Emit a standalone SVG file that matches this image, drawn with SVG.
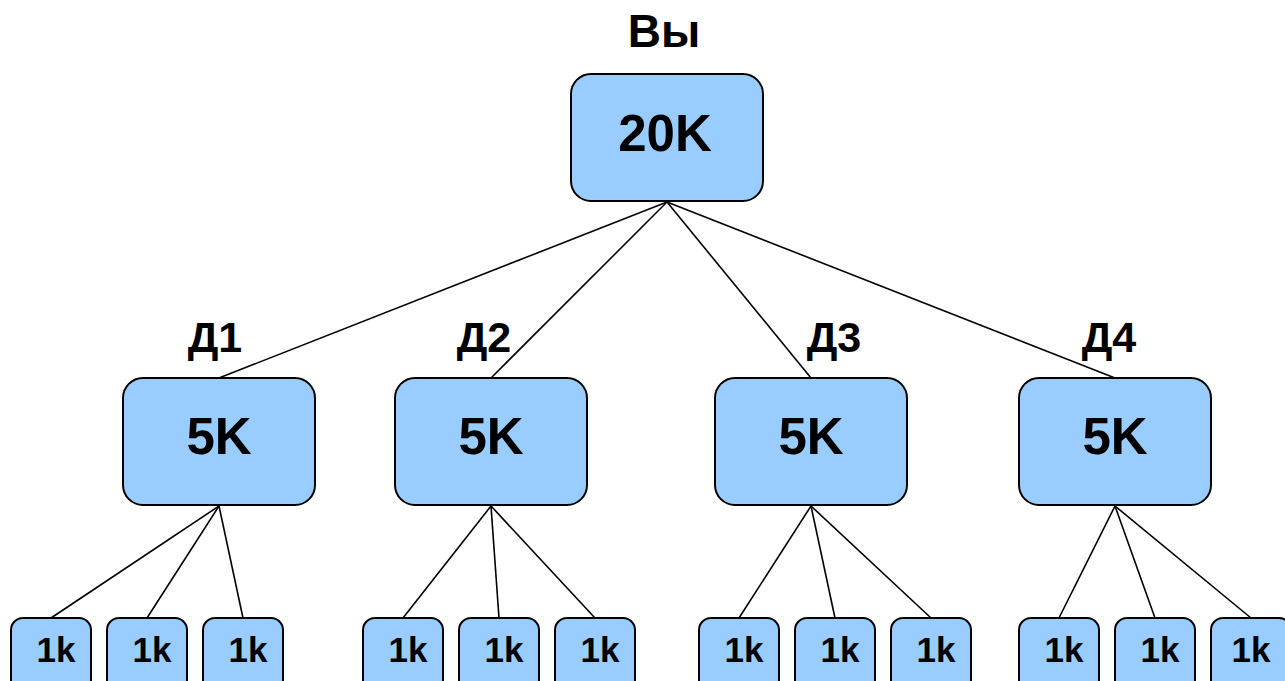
<svg xmlns="http://www.w3.org/2000/svg" width="1285" height="681" viewBox="0 0 1285 681">
<style>
.box{fill:#99ccff;stroke:#000;stroke-width:2}
.ln{stroke:#000;stroke-width:1.6;fill:none}
text{font-family:"Liberation Sans",Arial,sans-serif;font-weight:bold;fill:#000;text-anchor:middle}
.big{font-size:51px}
.top{font-size:46px}
.lbl{font-size:43px}
.sm{font-size:35px}
</style>
<rect width="1285" height="681" fill="#fff"/>
<g id="connectors">
<line class="ln" x1="667" y1="202" x2="219" y2="378"/>
<line class="ln" x1="667" y1="202" x2="491" y2="378"/>
<line class="ln" x1="667" y1="202" x2="811" y2="378"/>
<line class="ln" x1="667" y1="202" x2="1115" y2="378"/>
<line class="ln" x1="219" y1="506" x2="51" y2="618"/>
<line class="ln" x1="219" y1="506" x2="147" y2="618"/>
<line class="ln" x1="219" y1="506" x2="243" y2="618"/>
<line class="ln" x1="491" y1="506" x2="403" y2="618"/>
<line class="ln" x1="491" y1="506" x2="499" y2="618"/>
<line class="ln" x1="491" y1="506" x2="595" y2="618"/>
<line class="ln" x1="811" y1="506" x2="739" y2="618"/>
<line class="ln" x1="811" y1="506" x2="835" y2="618"/>
<line class="ln" x1="811" y1="506" x2="931" y2="618"/>
<line class="ln" x1="1115" y1="506" x2="1059" y2="618"/>
<line class="ln" x1="1115" y1="506" x2="1155" y2="618"/>
<line class="ln" x1="1115" y1="506" x2="1251" y2="618"/>
</g>
<g id="root">
<text class="top" x="664" y="47">Вы</text>
<rect class="box" x="571" y="74" width="192" height="127" rx="20"/>
<text class="big" x="665" y="151">20K</text>
</g>
<g id="d1">
<text class="lbl" x="215" y="352">Д1</text>
<rect class="box" x="123" y="378" width="192" height="127" rx="20"/>
<text class="big" x="219" y="454">5K</text>
</g>
<g id="d2">
<text class="lbl" x="484" y="352">Д2</text>
<rect class="box" x="395" y="378" width="192" height="127" rx="20"/>
<text class="big" x="491" y="454">5K</text>
</g>
<g id="d3">
<text class="lbl" x="834" y="352">Д3</text>
<rect class="box" x="715" y="378" width="192" height="127" rx="20"/>
<text class="big" x="811" y="454">5K</text>
</g>
<g id="d4">
<text class="lbl" x="1109" y="352">Д4</text>
<rect class="box" x="1019" y="378" width="192" height="127" rx="20"/>
<text class="big" x="1115" y="454">5K</text>
</g>
<g id="leaf1"><rect class="box" x="11" y="618" width="80" height="80" rx="12"/><text class="sm" x="56" y="662">1k</text></g>
<g id="leaf2"><rect class="box" x="107" y="618" width="80" height="80" rx="12"/><text class="sm" x="152" y="662">1k</text></g>
<g id="leaf3"><rect class="box" x="203" y="618" width="80" height="80" rx="12"/><text class="sm" x="248" y="662">1k</text></g>
<g id="leaf4"><rect class="box" x="363" y="618" width="80" height="80" rx="12"/><text class="sm" x="408" y="662">1k</text></g>
<g id="leaf5"><rect class="box" x="459" y="618" width="80" height="80" rx="12"/><text class="sm" x="504" y="662">1k</text></g>
<g id="leaf6"><rect class="box" x="555" y="618" width="80" height="80" rx="12"/><text class="sm" x="600" y="662">1k</text></g>
<g id="leaf7"><rect class="box" x="699" y="618" width="80" height="80" rx="12"/><text class="sm" x="744" y="662">1k</text></g>
<g id="leaf8"><rect class="box" x="795" y="618" width="80" height="80" rx="12"/><text class="sm" x="840" y="662">1k</text></g>
<g id="leaf9"><rect class="box" x="891" y="618" width="80" height="80" rx="12"/><text class="sm" x="936" y="662">1k</text></g>
<g id="leaf10"><rect class="box" x="1019" y="618" width="80" height="80" rx="12"/><text class="sm" x="1064" y="662">1k</text></g>
<g id="leaf11"><rect class="box" x="1115" y="618" width="80" height="80" rx="12"/><text class="sm" x="1160" y="662">1k</text></g>
<g id="leaf12"><rect class="box" x="1211" y="618" width="80" height="80" rx="12"/><text class="sm" x="1251" y="662">1k</text></g>
</svg>
